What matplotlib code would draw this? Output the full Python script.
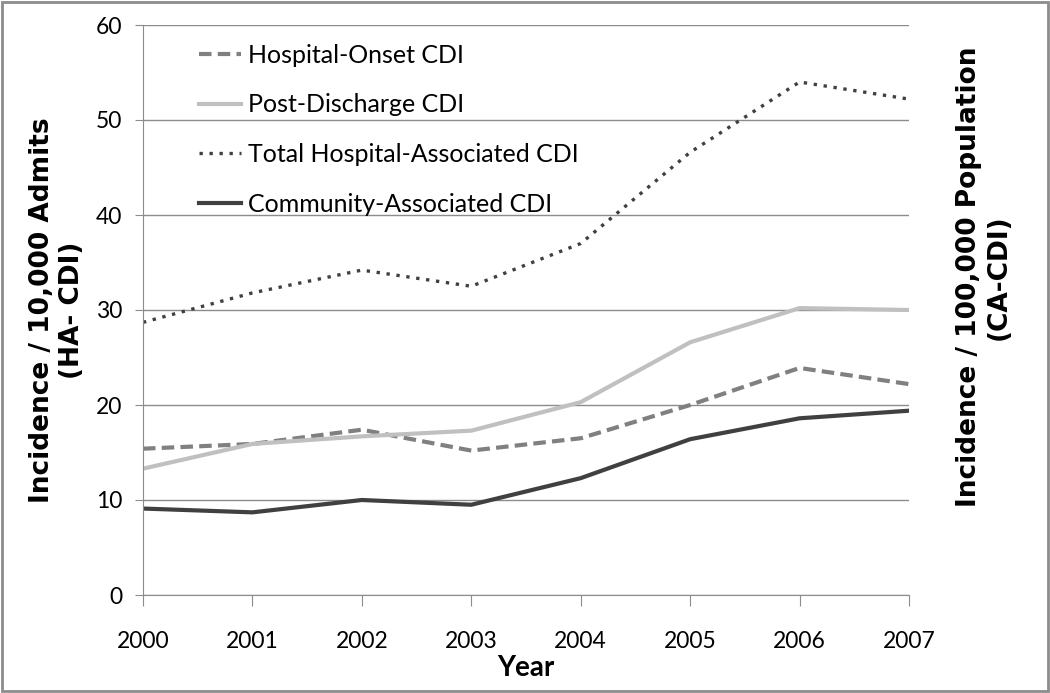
import matplotlib.pyplot as plt
from matplotlib.patches import Rectangle

# data
years = [2000, 2001, 2002, 2003, 2004, 2005, 2006, 2007]
hospital_onset = [15.4, 15.9, 17.4, 15.2, 16.5, 20.0, 23.9, 22.2]
post_discharge = [13.3, 15.9, 16.7, 17.3, 20.3, 26.6, 30.2, 30.0]
total_ha = [28.7, 31.8, 34.2, 32.5, 37.0, 46.6, 54.0, 52.2]
community = [9.1, 8.7, 10.0, 9.5, 12.3, 16.4, 18.6, 19.4]

narrow = "Lato"  # closest installed match to the Calibri look

fig = plt.figure(figsize=(10.5, 6.93), dpi=100)
ax = fig.add_axes([143/1050, 1 - 595/693, (909-143)/1050, (595-25)/693])

ax.plot(years, hospital_onset, color="#808080", lw=3, ls=(0, (3, 1.5)), label="Hospital-Onset CDI")
ax.plot(years, post_discharge, color="#c0c0c0", lw=3, label="Post-Discharge CDI")
ax.plot(years, total_ha, color="#404040", lw=2.4, ls=(0, (1, 2)), label="Total Hospital-Associated CDI")
ax.plot(years, community, color="#404040", lw=3, label="Community-Associated CDI")

ax.set_xlim(2000, 2007)
ax.set_ylim(0, 60)
ax.set_yticks(range(0, 61, 10))
ax.set_xticks(years)
ax.grid(axis="y", color="#8c8c8c", lw=1)
ax.set_axisbelow(True)
for s in ["top", "right"]:
    ax.spines[s].set_visible(False)
ax.spines["left"].set_color("#8c8c8c")
ax.spines["bottom"].set_color("#8c8c8c")
ax.tick_params(axis="y", length=6, color="#8c8c8c", pad=9, labelsize=16.5)
ax.tick_params(axis="x", length=8, color="#8c8c8c", pad=18, labelsize=16.5)
for lab in ax.get_xticklabels() + ax.get_yticklabels():
    lab.set_fontfamily(narrow)

ax.set_xlabel("Year", fontsize=20, fontweight="bold", fontfamily=narrow, labelpad=2)
ax.set_ylabel("Incidence / 10,000 Admits\n(HA- CDI)", fontsize=19, fontweight="bold",
              labelpad=8)
fig.text(0.937, 0.60, "Incidence / 100,000 Population\n(CA-CDI)", rotation=90, fontsize=19,
         fontweight="bold", ha="center", va="center", multialignment="center")

leg = ax.legend(loc="upper left", bbox_to_anchor=(0.044, 1.007), frameon=False,
                prop={"family": narrow, "size": 18}, handlelength=1.68,
                handletextpad=0.28, labelspacing=1.07)

fig.patches.append(Rectangle((0.002, 0.003), 0.996, 0.994, transform=fig.transFigure,
                             fill=False, edgecolor="#8c8c8c", lw=2))

fig.savefig("out.png", dpi=100)
